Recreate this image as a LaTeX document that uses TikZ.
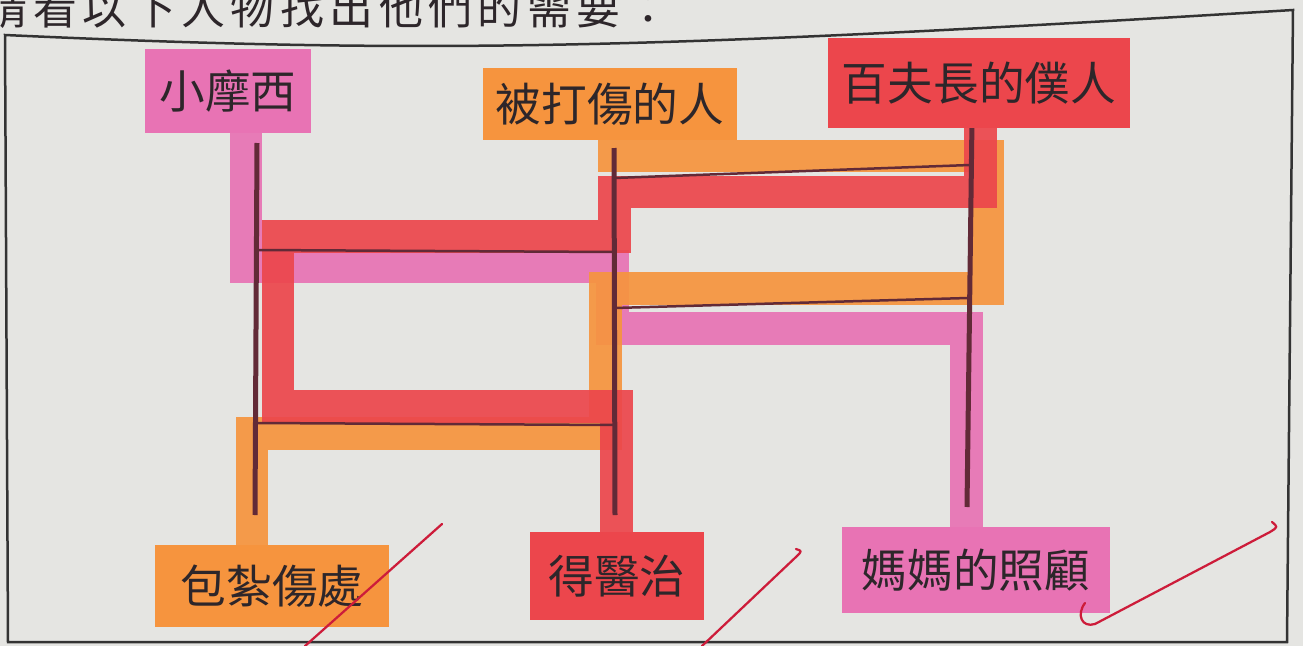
\documentclass[tikz,border=0pt]{standalone}
\usepackage{fontspec}
\newfontfamily\cjk{Noto Sans CJK TC}
\newfontfamily\cjkwide[LetterSpace=12.5]{Noto Sans CJK TC}
\usetikzlibrary{positioning}
\definecolor{paper}{RGB}{229,229,226}
\definecolor{inkgray}{RGB}{45,38,42}
\definecolor{ladder}{RGB}{98,42,55}
\definecolor{pinkhl}{RGB}{232,115,180}
\definecolor{orangehl}{RGB}{246,148,62}
\definecolor{redhl}{RGB}{236,70,76}
\definecolor{pen}{RGB}{205,28,58}

\begin{document}
\begin{tikzpicture}[x=0.02cm,y=-0.02cm,
  label node/.style={rectangle,inner sep=0pt,font=\cjk\fontsize{26}{30}\selectfont,text=inkgray},
  pole/.style={draw=ladder,line width=0.1cm},
  rung/.style={draw=ladder,line width=0.05cm},
  trace/.style={line width=0.66cm,opacity=0.92},
  tick/.style={draw=pen,line width=0.045cm,line cap=round,line join=round}]

\useasboundingbox[fill=paper] (0,0) rectangle (1303,646);

% Title and frame
  \node[font=\cjkwide\fontsize{25}{30}\selectfont,text=inkgray] (title) at (327,8) {請看以下人物找出他們的需要：};
  \coordinate (f1) at (5,35);
  \coordinate (f2) at (1293,10);
  \coordinate (f3) at (1287,642);
  \coordinate (f4) at (8,642);
  \draw[black!80,line width=0.05cm] (f1) .. controls (420,54) and (640,50) .. (f2) -- (f3) -- (f4) -- cycle;

% Traced paths (coloured pencil)
  \draw[trace,pinkhl] (246,125) -- (246,266) -- (612,266) -- (612,328) -- (966,328) -- (966,535);
  \draw[trace,orangehl] (614,135) -- (614,156) -- (987,156) -- (987,288) -- (605,288) -- (605,433) -- (252,433) -- (252,555);
  \draw[trace,redhl] (980,115) -- (980,192) -- (614,192) -- (614,236) -- (278,236) -- (278,406) -- (616,406) -- (616,540);

% Ladder
  \coordinate (p1t) at (257,143);
  \coordinate (p1b) at (255,515);
  \coordinate (p2t) at (614,148);
  \coordinate (p2b) at (615,515);
  \coordinate (p3t) at (972,120);
  \coordinate (p3b) at (967,507);

  \coordinate (r1a) at (257,250);
  \coordinate (r1b) at (614,252);
  \coordinate (r2a) at (256,423);
  \coordinate (r2b) at (615,425);
  \coordinate (r3a) at (614,178);
  \coordinate (r3b) at (970,165);
  \coordinate (r4a) at (614,308);
  \coordinate (r4b) at (968,298);

  \path[pole]
    (p1t) edge (p1b)
    (p2t) edge (p2b)
    (p3t) edge (p3b);
  \path[rung]
    (r1a) edge (r1b)
    (r2a) edge (r2b)
    (r3a) edge (r3b)
    (r4a) edge (r4b);

% Top labels
  \node[label node,fill=pinkhl,minimum width=3.34cm,minimum height=1.7cm] (moses) at (228,91) {小摩西};
  \node[label node,fill=orangehl,minimum width=5.08cm,minimum height=1.44cm] (beaten) at (610,104) {被打傷的人};
  \node[label node,fill=redhl,minimum width=6.04cm,minimum height=1.8cm] (servant) at (979,83) {百夫長的僕人};

% Bottom labels
  \node[label node,fill=orangehl,minimum width=4.7cm,minimum height=1.66cm] (bandage) at (272,586) {包紮傷處};
  \node[label node,fill=redhl,minimum width=3.5cm,minimum height=1.76cm] (heal) at (617,576) {得醫治};
  \node[label node,fill=pinkhl,minimum width=5.36cm,minimum height=1.74cm] (mother) at (976,570) {媽媽的照顧};

% Marks in red pen
  \coordinate (t1a) at (305,646);
  \coordinate (t1b) at (442,524);
  \draw[tick] (t1a) -- (t1b);
  \coordinate (t2a) at (702,646);
  \coordinate (t2b) at (797,556);
  \draw[tick] (t2a) -- (t2b) .. controls (802,551) .. (796,549);
  \coordinate (t3a) at (1085,603);
  \coordinate (t3b) at (1270,532);
  \draw[tick] (t3a) .. controls (1076,615) and (1082,628) .. (1095,624) -- (t3b) .. controls (1278,527) .. (1272,522);

\end{tikzpicture}
\end{document}
